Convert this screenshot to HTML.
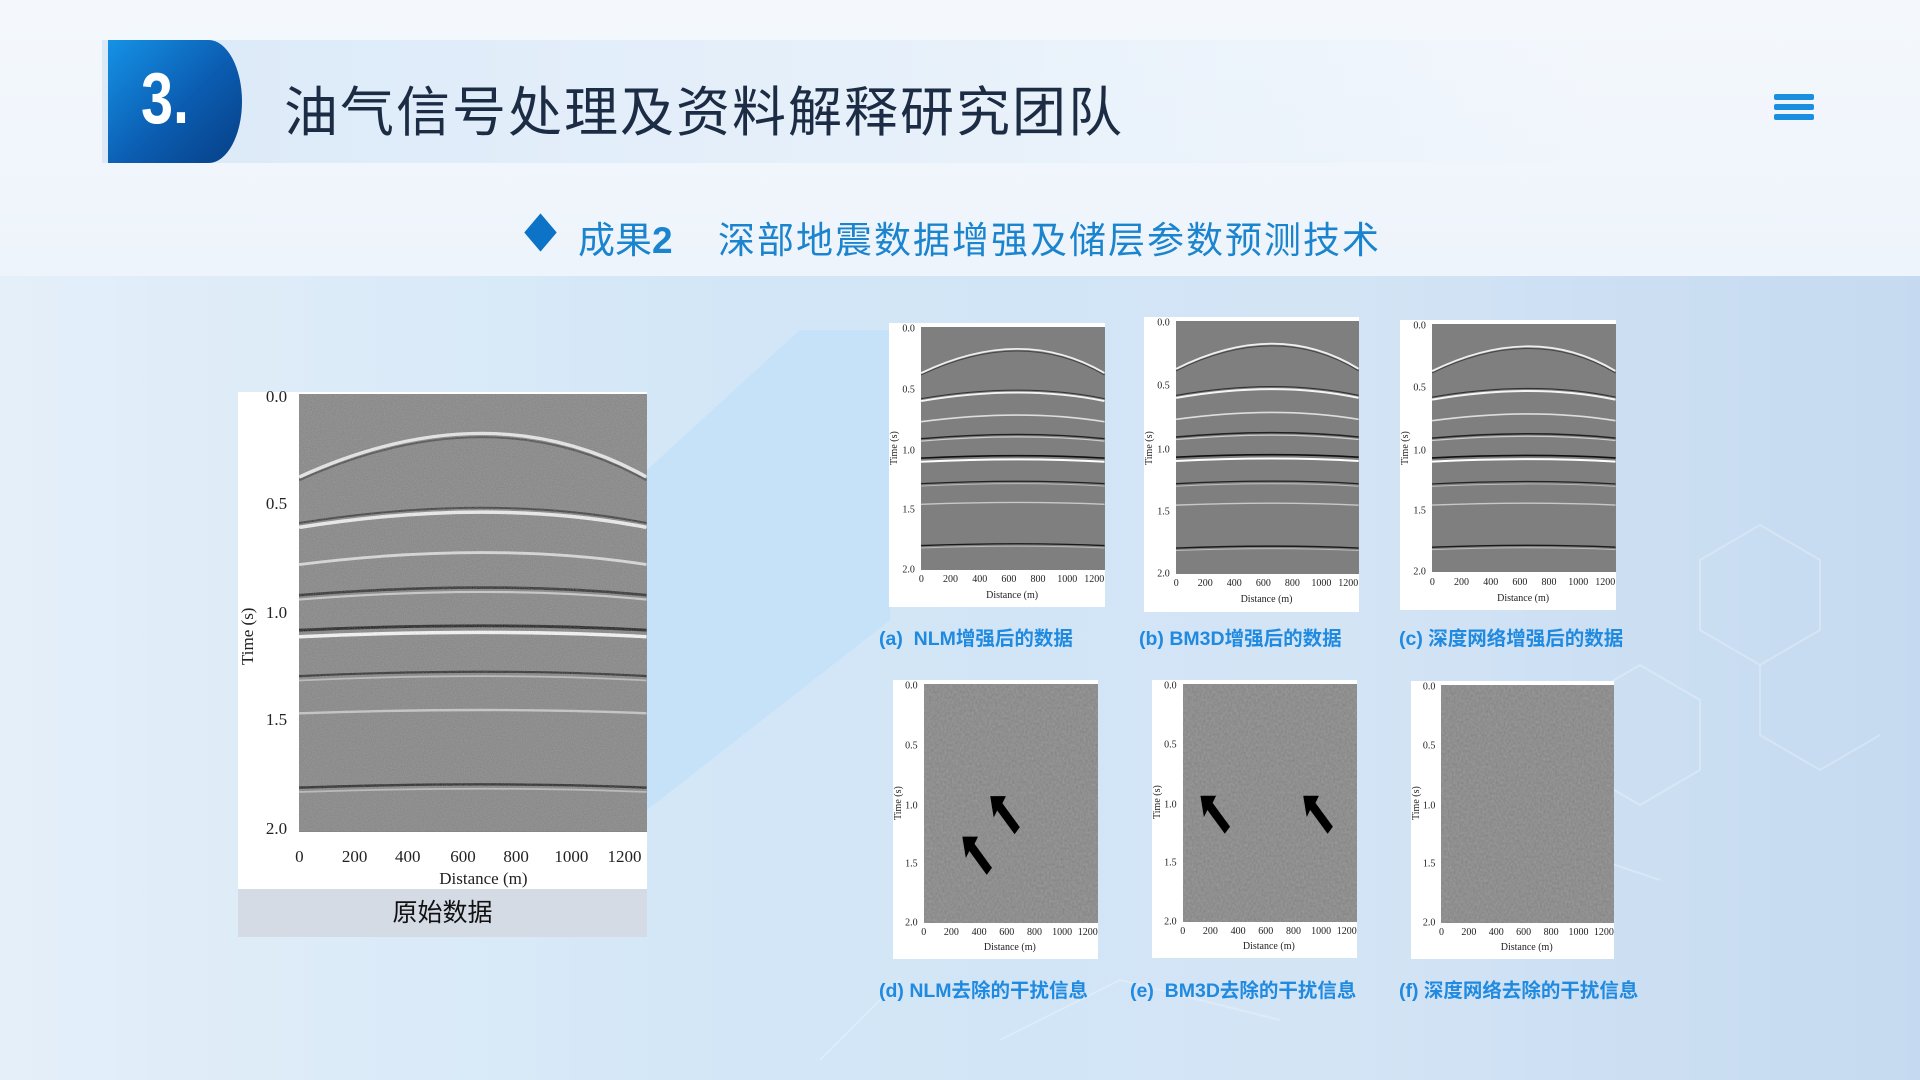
<!DOCTYPE html>
<html><head><meta charset="utf-8">
<style>
*{margin:0;padding:0;box-sizing:border-box}
body{width:1920px;height:1080px;overflow:hidden;position:relative;font-family:"Liberation Sans","Noto Sans CJK SC",sans-serif;
background:linear-gradient(180deg,#f4f8fd 0,#eef4fb 276px,#d6e7f7 277px,#cfe2f5 1080px)}
.low{position:absolute;left:0;top:276px;width:1920px;height:804px;background:linear-gradient(90deg,#e4eff9 0%,#d2e6f7 40%,#d3e4f5 70%,#c5daf0 100%)}
.hdr{position:absolute;left:102px;top:40px;width:1500px;height:123px;background:linear-gradient(90deg,#dbe9f8 0%,#e6f0fa 50%,rgba(240,246,252,0) 100%)}
.num{position:absolute;left:108px;top:40px;width:134px;height:123px;background:linear-gradient(135deg,#1592e6,#0b5cb0 55%,#073f86);border-radius:0 50% 50% 0/0 100% 100% 0}
.num span{position:absolute;left:33px;top:18px;font:bold 72px "Liberation Sans",sans-serif;color:#fff;transform:scaleX(.8);transform-origin:left}
.title{position:absolute;left:284px;top:68px;font-size:54px;color:#1c2c44;font-family:"Liberation Sans","Noto Sans CJK SC",sans-serif;letter-spacing:2px;white-space:nowrap}
.menu{position:absolute;left:1774px;width:40px;height:6px;background:#1a8fe0;border-radius:2px}
.sub{position:absolute;top:210px;font-size:37px;color:#1a84cf;white-space:nowrap}
.dia{position:absolute;left:527px;top:219px;width:27px;height:27px;background:#0c73c6;transform:scaleX(.85) rotate(45deg)}
.proj{position:absolute;left:0;top:0}
.pn{position:absolute;background:#fff;font-family:"Liberation Serif",serif;color:#222}
.pl{position:absolute;left:15%;right:0;top:1.5%;bottom:13%;background:#808080}
.pl svg{width:100%;height:100%;display:block}
.yl{position:absolute;left:12%;transform:translate(-100%,-50%)}
.xl{position:absolute;top:88.5%;transform:translateX(-50%)}
.dl{position:absolute;left:57%;top:94%;transform:translateX(-50%);white-space:nowrap}
.tl{position:absolute;left:0;top:50%;transform:rotate(-90deg);transform-origin:left top;white-space:nowrap}
.cap{position:absolute;font-weight:bold;color:#1f8ae0;font-size:19.5px;white-space:nowrap}
</style></head><body>
<div class="low"></div>
<svg class="proj" width="1920" height="1080"><polygon points="647,470 800,330 890,330 890,620 647,810" fill="#bfe0fa" opacity=".7"/>
<g stroke="#fff" stroke-width="2" fill="none" opacity=".25"><path d="M1700,560 l60,-35 60,35 0,70 -60,35 -60,-35z M1760,665 l0,70 60,35 60,-35 M1580,700 l60,-35 60,35 0,70 -60,35 -60,-35z M1460,900 l80,-60 120,40 M1000,1040 l120,-60 160,40 M900,980 l-80,80"/></g></svg>
<svg width="0" height="0" style="position:absolute">
<defs>
<filter id="nz" x="0" y="0" width="100%" height="100%"><feTurbulence type="fractalNoise" baseFrequency="0.9" numOctaves="1" seed="3"/><feColorMatrix type="matrix" values="0 0 0 0 .5  0 0 0 0 .5  0 0 0 0 .5  0 0 0 .5 0"/></filter>
<symbol id="sig" viewBox="0 0 100 200" preserveAspectRatio="none">
<rect width="100" height="200" fill="#7f7f7f"/>
<g fill="none" vector-effect="non-scaling-stroke">
<path d="M0,38 Q55,-2 100,38" stroke="#eee" stroke-width="1.4"/>
<path d="M0,39.5 Q55,0 100,39.5" stroke="#444" stroke-width=".8"/>
<path d="M0,61 Q55,47 100,61" stroke="#f4f4f4" stroke-width="1.6"/>
<path d="M0,59 Q55,45 100,59" stroke="#333" stroke-width=".9"/>
<path d="M0,78 Q55,67 100,78" stroke="#ddd" stroke-width="1.3"/>
<path d="M0,92 Q55,85 100,92" stroke="#222" stroke-width="1.2"/>
<path d="M0,94 Q55,87 100,94" stroke="#ccc" stroke-width="1"/>
<path d="M0,108 Q55,104 100,108" stroke="#111" stroke-width="1.3"/>
<path d="M0,111 Q55,107 100,111" stroke="#fff" stroke-width="1.6"/>
<path d="M0,129 Q55,125 100,129" stroke="#222" stroke-width="1"/>
<path d="M0,131 Q55,127 100,131" stroke="#bbb" stroke-width=".8"/>
<path d="M0,146 Q55,143 100,146" stroke="#c8c8c8" stroke-width="1.1"/>
<path d="M0,180 Q55,177 100,180" stroke="#1a1a1a" stroke-width="1.1"/>
<path d="M0,182 Q55,179 100,182" stroke="#bbb" stroke-width=".8"/>
</g></symbol>
</defs></svg>

<div class="hdr"></div>
<div class="num"><span>3.</span></div>
<div class="title">油气信号处理及资料解释研究团队</div>
<div class="menu" style="top:94px"></div><div class="menu" style="top:104px"></div><div class="menu" style="top:114px"></div>
<div class="dia"></div>
<div class="sub" style="left:578px">成果<b style="font-family:'Liberation Sans';">2</b></div>
<div class="sub" style="left:718px;letter-spacing:2px">深部地震数据增强及储层参数预测技术</div>

<!-- original -->
<div class="pn" style="left:238px;top:392px;width:409px;height:497px;font-size:17px">
<div class="pl" style="top:0.5%;bottom:11.5%"><svg><use href="#sig" width="100%" height="100%"/><rect width="100%" height="100%" filter="url(#nz)"/></svg></div>
<div class="yl" style="top:1%">0.0</div><div class="yl" style="top:22.5%">0.5</div><div class="yl" style="top:44.5%">1.0</div><div class="yl" style="top:66%">1.5</div><div class="yl" style="top:88%">2.0</div>
<div class="xl" style="left:15%;top:91.5%">0</div><div class="xl" style="left:28.5%;top:91.5%">200</div><div class="xl" style="left:41.5%;top:91.5%">400</div><div class="xl" style="left:55%;top:91.5%">600</div><div class="xl" style="left:68%;top:91.5%">800</div><div class="xl" style="left:81.5%;top:91.5%">1000</div><div class="xl" style="left:94.5%;top:91.5%">1200</div>
<div class="dl" style="top:96%;left:60%">Distance (m)</div>
<div class="tl" style="left:0;top:55%">Time (s)</div>
</div>
<div style="position:absolute;left:238px;top:889px;width:409px;height:48px;background:#d5dbe5;font-size:25px;color:#111;text-align:center;line-height:48px">原始数据</div>

<!-- (a) -->
<div class="pn" style="left:889px;top:323px;width:216px;height:284px;font-size:10px">
<div class="pl"><svg><use href="#sig" width="100%" height="100%"/></svg></div>
<div class="yl" style="top:2%">0.0</div><div class="yl" style="top:23.5%">0.5</div><div class="yl" style="top:45%">1.0</div><div class="yl" style="top:66%">1.5</div><div class="yl" style="top:87%">2.0</div>
<div class="xl" style="left:15%">0</div><div class="xl" style="left:28.5%">200</div><div class="xl" style="left:42%">400</div><div class="xl" style="left:55.5%">600</div><div class="xl" style="left:69%">800</div><div class="xl" style="left:82.5%">1000</div><div class="xl" style="left:95%">1200</div>
<div class="dl">Distance (m)</div><div class="tl">Time (s)</div></div>
<!-- (b) -->
<div class="pn" style="left:1144px;top:317px;width:215px;height:295px;font-size:10px">
<div class="pl"><svg><use href="#sig" width="100%" height="100%"/></svg></div>
<div class="yl" style="top:2%">0.0</div><div class="yl" style="top:23.5%">0.5</div><div class="yl" style="top:45%">1.0</div><div class="yl" style="top:66%">1.5</div><div class="yl" style="top:87%">2.0</div>
<div class="xl" style="left:15%">0</div><div class="xl" style="left:28.5%">200</div><div class="xl" style="left:42%">400</div><div class="xl" style="left:55.5%">600</div><div class="xl" style="left:69%">800</div><div class="xl" style="left:82.5%">1000</div><div class="xl" style="left:95%">1200</div>
<div class="dl">Distance (m)</div><div class="tl">Time (s)</div></div>
<!-- (c) -->
<div class="pn" style="left:1400px;top:320px;width:216px;height:290px;font-size:10px">
<div class="pl"><svg><use href="#sig" width="100%" height="100%"/></svg></div>
<div class="yl" style="top:2%">0.0</div><div class="yl" style="top:23.5%">0.5</div><div class="yl" style="top:45%">1.0</div><div class="yl" style="top:66%">1.5</div><div class="yl" style="top:87%">2.0</div>
<div class="xl" style="left:15%">0</div><div class="xl" style="left:28.5%">200</div><div class="xl" style="left:42%">400</div><div class="xl" style="left:55.5%">600</div><div class="xl" style="left:69%">800</div><div class="xl" style="left:82.5%">1000</div><div class="xl" style="left:95%">1200</div>
<div class="dl">Distance (m)</div><div class="tl">Time (s)</div></div>

<div class="cap" style="left:879px;top:622px">(a)&nbsp;&nbsp;NLM增强后的数据</div>
<div class="cap" style="left:1139px;top:622px">(b) BM3D增强后的数据</div>
<div class="cap" style="left:1399px;top:622px">(c) 深度网络增强后的数据</div>

<!-- (d) -->
<div class="pn" style="left:893px;top:680px;width:205px;height:279px;font-size:10px">
<div class="pl"><svg viewBox="0 0 100 100" preserveAspectRatio="none"><rect width="100" height="100" fill="#808080"/><rect width="100" height="100" filter="url(#nz)"/>
<polygon points="38,47 47,47 45,50 55,60 52,63 42,53 40,56" fill="#000"/><polygon points="22,64 31,64 29,67 39,77 36,80 26,70 24,73" fill="#000"/></svg></div>
<div class="yl" style="top:2%">0.0</div><div class="yl" style="top:23.5%">0.5</div><div class="yl" style="top:45%">1.0</div><div class="yl" style="top:66%">1.5</div><div class="yl" style="top:87%">2.0</div>
<div class="xl" style="left:15%">0</div><div class="xl" style="left:28.5%">200</div><div class="xl" style="left:42%">400</div><div class="xl" style="left:55.5%">600</div><div class="xl" style="left:69%">800</div><div class="xl" style="left:82.5%">1000</div><div class="xl" style="left:95%">1200</div>
<div class="dl">Distance (m)</div><div class="tl">Time (s)</div></div>
<!-- (e) -->
<div class="pn" style="left:1152px;top:680px;width:205px;height:278px;font-size:10px">
<div class="pl"><svg viewBox="0 0 100 100" preserveAspectRatio="none"><rect width="100" height="100" fill="#808080"/><rect width="100" height="100" filter="url(#nz)"/>
<polygon points="10,47 19,47 17,50 27,60 24,63 14,53 12,56" fill="#000"/><polygon points="69,47 78,47 76,50 86,60 83,63 73,53 71,56" fill="#000"/></svg></div>
<div class="yl" style="top:2%">0.0</div><div class="yl" style="top:23.5%">0.5</div><div class="yl" style="top:45%">1.0</div><div class="yl" style="top:66%">1.5</div><div class="yl" style="top:87%">2.0</div>
<div class="xl" style="left:15%">0</div><div class="xl" style="left:28.5%">200</div><div class="xl" style="left:42%">400</div><div class="xl" style="left:55.5%">600</div><div class="xl" style="left:69%">800</div><div class="xl" style="left:82.5%">1000</div><div class="xl" style="left:95%">1200</div>
<div class="dl">Distance (m)</div><div class="tl">Time (s)</div></div>
<!-- (f) -->
<div class="pn" style="left:1411px;top:681px;width:203px;height:278px;font-size:10px">
<div class="pl"><svg viewBox="0 0 100 100" preserveAspectRatio="none"><rect width="100" height="100" fill="#808080"/><rect width="100" height="100" filter="url(#nz)"/></svg></div>
<div class="yl" style="top:2%">0.0</div><div class="yl" style="top:23.5%">0.5</div><div class="yl" style="top:45%">1.0</div><div class="yl" style="top:66%">1.5</div><div class="yl" style="top:87%">2.0</div>
<div class="xl" style="left:15%">0</div><div class="xl" style="left:28.5%">200</div><div class="xl" style="left:42%">400</div><div class="xl" style="left:55.5%">600</div><div class="xl" style="left:69%">800</div><div class="xl" style="left:82.5%">1000</div><div class="xl" style="left:95%">1200</div>
<div class="dl">Distance (m)</div><div class="tl">Time (s)</div></div>

<div class="cap" style="left:879px;top:974px">(d) NLM去除的干扰信息</div>
<div class="cap" style="left:1130px;top:974px">(e)&nbsp;&nbsp;BM3D去除的干扰信息</div>
<div class="cap" style="left:1399px;top:974px">(f) 深度网络去除的干扰信息</div>
</body></html>
